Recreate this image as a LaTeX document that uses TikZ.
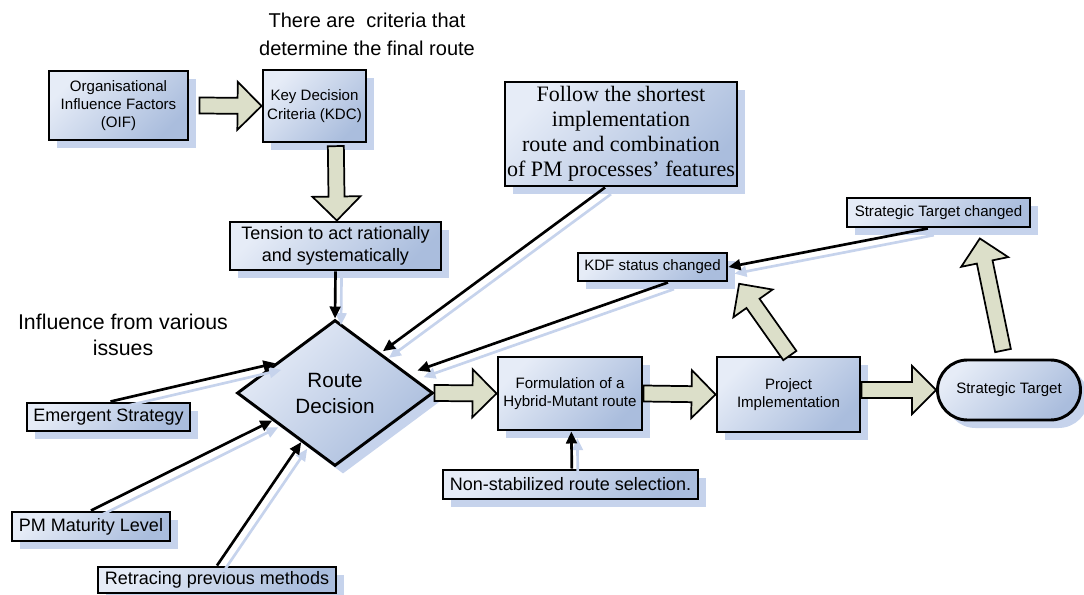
\documentclass[tikz,border=0pt]{standalone}
\usepackage{fontspec}
\setmainfont{Liberation Sans}
\newfontfamily\timesfam{Liberation Serif}
\usetikzlibrary{shapes.geometric,shapes.misc,arrows.meta,calc,shadows}

\definecolor{boxlight}{HTML}{E6ECF7}
\definecolor{boxdark}{HTML}{AABDDD}
\definecolor{shadowblue}{HTML}{C6D3EC}
\definecolor{fatfill}{HTML}{DCDFC9}

% font sizes (pt / baselineskip)
\newcommand{\fsSmall}{\fontsize{11.3}{13.5}\selectfont}
\newcommand{\fsKdc}{\fontsize{11.3}{14.2}\selectfont}
\newcommand{\fsMid}{\fontsize{13.5}{17}\selectfont}
\newcommand{\fsRoute}{\fontsize{15.5}{19.5}\selectfont}
\newcommand{\fsTitle}{\fontsize{15}{21}\selectfont}
\newcommand{\fsInfl}{\fontsize{16}{19}\selectfont}
\newcommand{\fsFollow}{\timesfam\fontsize{16.5}{18.75}\selectfont}

% hollow block arrow between two points
\newcommand{\fatarrow}[2]{%
  \path #1 coordinate (fa-s);
  \path #2 coordinate (fa-e);
  \coordinate (fa-c) at ($(fa-e)!18pt!(fa-s)$);
  \draw[fat] ($(fa-s)!6pt!90:(fa-e)$) -- ($(fa-c)!6pt!90:(fa-e)$)
    -- ($(fa-c)!18pt!90:(fa-e)$) -- (fa-e) -- ($(fa-c)!18pt!-90:(fa-e)$)
    -- ($(fa-c)!6pt!-90:(fa-e)$) -- ($(fa-s)!6pt!-90:(fa-e)$) -- cycle;}

\tikzset{
  sz/.style 2 args={minimum width=#1*0.75pt, minimum height=#2*0.75pt},
  box/.style={draw=black, line width=2.2pt, top color=boxlight, bottom color=boxdark,
    shading angle=45, inner sep=0pt, align=center,
    drop shadow={shadow xshift=6pt, shadow yshift=-6pt, fill=shadowblue, opacity=1}},
  conn/.style={draw=black, line width=2pt, -{Triangle[length=9pt,width=8pt]},
    preaction={draw=shadowblue, line width=2pt, transform canvas={xshift=4.5pt,yshift=-5pt}}},
  fat/.style={draw=black, line width=1.3pt, fill=fatfill, line join=miter},
  plain/.style={align=center, inner sep=0pt}
}

\begin{document}
\begin{tikzpicture}[x=0.75pt,y=-0.75pt]
\useasboundingbox (0,0) rectangle (1084,595);

% headings
\node[plain, font=\fsTitle] (title) at (367,34) {There are\ \ criteria that\\determine the final route};
\node[plain, font=\fsInfl] (infl) at (123,335) {Influence from various\\issues};

% boxes
\node[box, sz={139}{69}, font=\fsSmall] (oif) at (118.5,105.5) {Organisational\\Influence Factors\\(OIF)};
\node[box, sz={103}{72}, font=\fsKdc] (kdc) at (314.5,106) {Key Decision\\Criteria (KDC)};
\node[box, sz={211}{48}, font=\fsMid] (tension) at (335.5,246) {Tension to act rationally\\and systematically};
\node[box, diamond, aspect=1.34, sz={196}{146}, font=\fsRoute] (route) at (335,393) {Route\\Decision};
\node[box, sz={163}{28}, font=\fsMid] (emer) at (108.5,417) {Emergent Strategy};
\node[box, sz={158}{29}, font=\fsMid] (pmm) at (91,526.5) {PM Maturity Level};
\node[box, sz={238}{26}, font=\fsMid] (retr) at (217,580) {Retracing previous methods};
\node[box, sz={232}{104}, font=\fsFollow] (follow) at (621,134) {Follow the shortest\\implementation\\route and combination\\of PM processes’ features};
\node[box, sz={149}{28}, font=\fsSmall] (kdf) at (652.5,267) {KDF status changed};
\node[box, sz={183}{29}, font=\fsSmall] (stc) at (938.5,212.5) {Strategic Target changed};
\node[box, sz={144}{73}, font=\fsSmall] (form) at (570,393.5) {Formulation of a\\Hybrid-Mutant route};
\node[box, sz={143}{75}, font=\fsSmall] (proj) at (788.5,394.5) {Project\\Implementation};
\node[box, rounded rectangle, sz={143}{60}, font=\fsSmall] (st) at (1009,390) {Strategic Target};
\node[box, sz={255}{29}, font=\fsMid] (nonstab) at (570.5,484.5) {Non-stabilized route selection.};

% line connectors
\draw[conn] (tension.south) -- (route.north);
\draw[conn] ([xshift=1.5pt]emer.north) -- ($(route.west)!0.4!(route.north)$);
\draw[conn] (pmm.north) -- ($(route.west)!0.37!(route.south)$);
\draw[conn] (retr.north) -- ($(route.west)!0.66!(route.south)$);
\draw[conn, shorten >=2pt] ([xshift=-12pt]follow.south) -- ($(route.north)!0.46!(route.east)$);
\draw[conn, shorten >=7pt] ([xshift=11.6pt]kdf.south) -- ($(route.north)!0.74!(route.east)$);
\draw[conn] ([xshift=-8pt]stc.south) -- (kdf.east);
\draw[conn] ([xshift=1pt]nonstab.north) -- ([xshift=1pt]form.south);

% block arrows
\fatarrow{([xshift=7.5pt]oif.east)}{(kdc.west)}
\fatarrow{([xshift=16pt,yshift=-2pt]kdc.south)}{([xshift=1pt]tension.north)}
\fatarrow{(route.east)}{(form.west)}
\fatarrow{(form.east)}{(proj.west)}
\fatarrow{(proj.east |- st.west)}{(st.west)}
\fatarrow{([xshift=1pt]proj.north)}{([xshift=8pt,yshift=-1pt]kdf.south east)}
\fatarrow{([xshift=-4.5pt,yshift=6pt]st.north)}{([xshift=31pt,yshift=-7.5pt]stc.south)}
\end{tikzpicture}
\end{document}
